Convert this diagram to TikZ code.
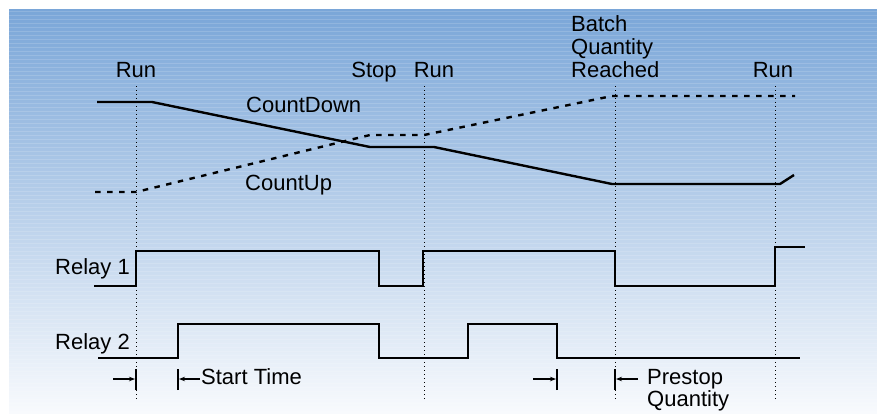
\documentclass[tikz,border=0pt]{standalone}
\usepackage{fontspec}
\setmainfont{Liberation Sans}
\usetikzlibrary{arrows.meta}

\definecolor{bgtop}{RGB}{122,166,216}
\definecolor{bgbottom}{RGB}{248,250,253}

\begin{document}
\begin{tikzpicture}[x=1pt,y=-1pt,
                    every node/.style={font=\fontsize{22}{23}\selectfont,inner sep=0pt},
                    event/.style={anchor=base},
                    marker/.style={line width=0.9pt,dash pattern=on 1pt off 3pt},
                    count line/.style={line width=2.4pt},
                    relay line/.style={line width=1.6pt},
                    tick/.style={line width=1.5pt},
                    dim arrow/.style={line width=1.1pt,-{Stealth[length=6pt,width=4.5pt]}}]

  % background
  \useasboundingbox (0,0) rectangle (877,413);
  \fill[white] (0,0) rectangle (877,413);
  \shade[top color=bgtop,bottom color=bgbottom] (9,9) rectangle (877,413);
  \foreach \y in {11,15,...,411}
    \draw[white,opacity=0.15,line width=0.7pt] (9,\y) -- (877,\y);

  % events
  \node[event] (run1) at (136,77) {Run};
  \node[event] (stop) at (374,77) {Stop};
  \node[event] (run2) at (434,77) {Run};
  \node[anchor=base west,align=left] (batch) at (571,77) {Batch\\Quantity\\Reached};
  \node[event] (run3) at (773,77) {Run};

  \foreach \t in {136,424,615,775}
    \draw[marker] (\t,86) -- (\t,400);

  % counters
  \node[anchor=base west] (down) at (246,112) {CountDown};
  \node[anchor=base west] (up) at (245,190) {CountUp};
  \draw[count line] (97,102) -- (152,102) -- (370,147) -- (434,147)
    -- (612,184) -- (780,184) -- (794,175);
  \draw[count line,dash pattern=on 5.5pt off 6.5pt] (95,192) -- (136,192)
    -- (370,135) -- (424,135) -- (612,96) -- (795,96);

  % relays
  \node[anchor=base east] (relay1) at (130,274) {Relay 1};
  \node[anchor=base east] (relay2) at (130,349) {Relay 2};
  \draw[relay line] (94,286) -- (136,286) -- (136,251) -- (379,251) -- (379,286)
    -- (423,286) -- (423,251) -- (615,251) -- (615,286) -- (775,286)
    -- (775,247) -- (805,247);
  \draw[relay line] (98,358) -- (178,358) -- (178,324) -- (379,324) -- (379,358)
    -- (468,358) -- (468,324) -- (557,324) -- (557,358) -- (800,358);

  % times
  \coordinate (runtick) at (136,379);
  \coordinate (starttick) at (178,379);
  \coordinate (stoptick) at (557,379);
  \coordinate (batchtick) at (615,379);
  \foreach \c in {runtick,starttick,stoptick,batchtick}
    \draw[tick] ([yshift=-11pt]\c) -- ([yshift=10pt]\c);

  \node[anchor=base west] (start) at (201,384) {Start Time};
  \node[anchor=base west,align=left] (prestop) at (647,406) {Prestop\\[-1pt]Quantity};

  \draw[dim arrow] ([xshift=-23pt]runtick) -- ([xshift=-1pt]runtick);
  \draw[dim arrow] ([xshift=22pt]starttick) -- ([xshift=1pt]starttick);
  \draw[dim arrow] ([xshift=-24pt]stoptick) -- ([xshift=-1pt]stoptick);
  \draw[dim arrow] ([xshift=23pt]batchtick) -- ([xshift=1pt]batchtick);

\end{tikzpicture}
\end{document}
